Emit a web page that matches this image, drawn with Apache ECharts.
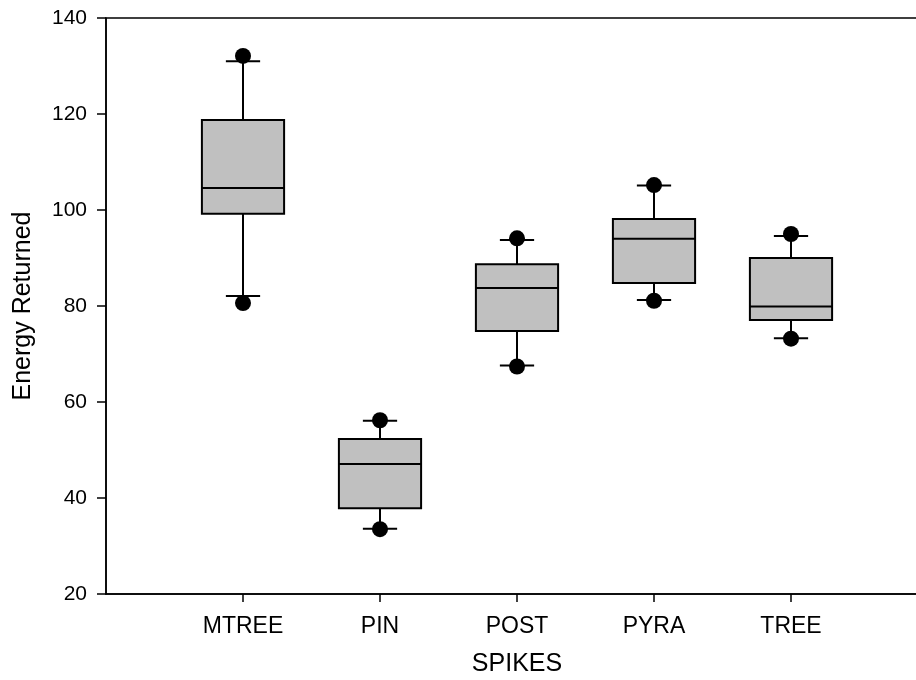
<!DOCTYPE html>
<html>
<head>
<meta charset="utf-8">
<script src="https://cdn.jsdelivr.net/npm/echarts@6/dist/echarts.min.js"></script>
<style>
  html, body { margin: 0; padding: 0; background: #fff; }
  #chart { width: 916px; height: 680px; }
</style>
</head>
<body>
<div id="chart"></div>
<script>
// data
var categories = ['MTREE', 'PIN', 'POST', 'PYRA', 'TREE'];
var lowerWhisker = [82.1, 33.6, 67.6, 81.25, 73.3];
var q1 = [99.2, 37.85, 74.8, 84.8, 77.1];
var median = [104.6, 47.1, 83.75, 94.0, 79.9];
var q3 = [118.75, 52.3, 88.7, 98.1, 90.0];
var upperWhisker = [131.0, 56.1, 93.75, 105.1, 94.6];
var lowOutliers = [80.6, 33.5, 67.4, 81.1, 73.2];
var highOutliers = [132.1, 56.2, 94.1, 105.2, 95.0];
var yMin = 20, yMax = 140, yStep = 20;

// empty slots at both ends so the boxes sit where they do in the original
var axisCats = [''].concat(categories, ['']);

var boxData = categories.map(function (c, i) {
  return [i + 1, lowerWhisker[i], q1[i], median[i], q3[i], upperWhisker[i]];
});
var dotData = [];
categories.forEach(function (c, i) {
  dotData.push([i + 1, lowOutliers[i]]);
  dotData.push([i + 1, highOutliers[i]]);
});

var font = 'Liberation Sans, Arial, sans-serif';
var myChart = echarts.init(document.getElementById('chart'));

var option = {
  animation: false,
  backgroundColor: '#fff',
  grid: {
    left: 106, top: 18, width: 822, height: 576,
    outerBoundsMode: 'none',
    containLabel: false,
    show: true, borderColor: '#000', borderWidth: 1.5, backgroundColor: 'transparent'
  },
  xAxis: {
    type: 'category',
    data: axisCats,
    boundaryGap: false,
    name: 'SPIKES',
    nameLocation: 'middle',
    nameGap: 58,
    nameTextStyle: { fontFamily: font, fontSize: 25, color: '#000' },
    axisLine: { lineStyle: { color: '#000', width: 1.5 } },
    axisTick: {
      inside: false, length: 8,
      interval: function (idx) { return idx > 0 && idx < axisCats.length - 1; },
      lineStyle: { color: '#000', width: 1.5 }
    },
    axisLabel: { fontFamily: font, fontSize: 23, color: '#000', margin: 21, interval: 0 },
    splitLine: { show: false }
  },
  yAxis: {
    type: 'value',
    min: yMin, max: yMax, interval: yStep,
    name: 'Energy Returned',
    nameLocation: 'middle',
    nameGap: 70,
    nameTextStyle: { fontFamily: font, fontSize: 25, color: '#000' },
    axisLine: { show: true, lineStyle: { color: '#000', width: 1.5 } },
    axisTick: { show: true, inside: false, length: 9, lineStyle: { color: '#000', width: 1.5 } },
    axisLabel: { fontFamily: font, fontSize: 21, color: '#000', margin: 19 },
    splitLine: { show: false }
  },
  series: [
    {
      type: 'custom',
      data: boxData,
      encode: { x: 0, y: [1, 2, 3, 4, 5] },
      renderItem: function (params, api) {
        var x = api.value(0);
        var lo = api.coord([x, api.value(1)]);
        var b1 = api.coord([x, api.value(2)]);
        var md = api.coord([x, api.value(3)]);
        var b3 = api.coord([x, api.value(4)]);
        var hi = api.coord([x, api.value(5)]);
        var band = api.size([1, 0])[0];
        var hw = band * 0.3;   // half box width
        var cw = band * 0.125; // half cap width
        var cx = lo[0];
        var line = { stroke: '#000', lineWidth: 2 };
        return {
          type: 'group',
          children: [
            { type: 'line', shape: { x1: cx, y1: hi[1], x2: cx, y2: b3[1] }, style: line },
            { type: 'line', shape: { x1: cx, y1: b1[1], x2: cx, y2: lo[1] }, style: line },
            { type: 'line', shape: { x1: cx - cw, y1: hi[1], x2: cx + cw, y2: hi[1] }, style: line },
            { type: 'line', shape: { x1: cx - cw, y1: lo[1], x2: cx + cw, y2: lo[1] }, style: line },
            { type: 'rect', shape: { x: cx - hw, y: b3[1], width: hw * 2, height: b1[1] - b3[1] },
              style: { fill: '#c0c0c0', stroke: '#000', lineWidth: 2 } },
            { type: 'line', shape: { x1: cx - hw, y1: md[1], x2: cx + hw, y2: md[1] }, style: line }
          ]
        };
      }
    },
    {
      type: 'scatter',
      data: dotData,
      symbol: 'circle',
      symbolSize: 16,
      itemStyle: { color: '#000', opacity: 1 },
      z: 5
    }
  ]
};
myChart.setOption(option);
</script>
</body>
</html>
